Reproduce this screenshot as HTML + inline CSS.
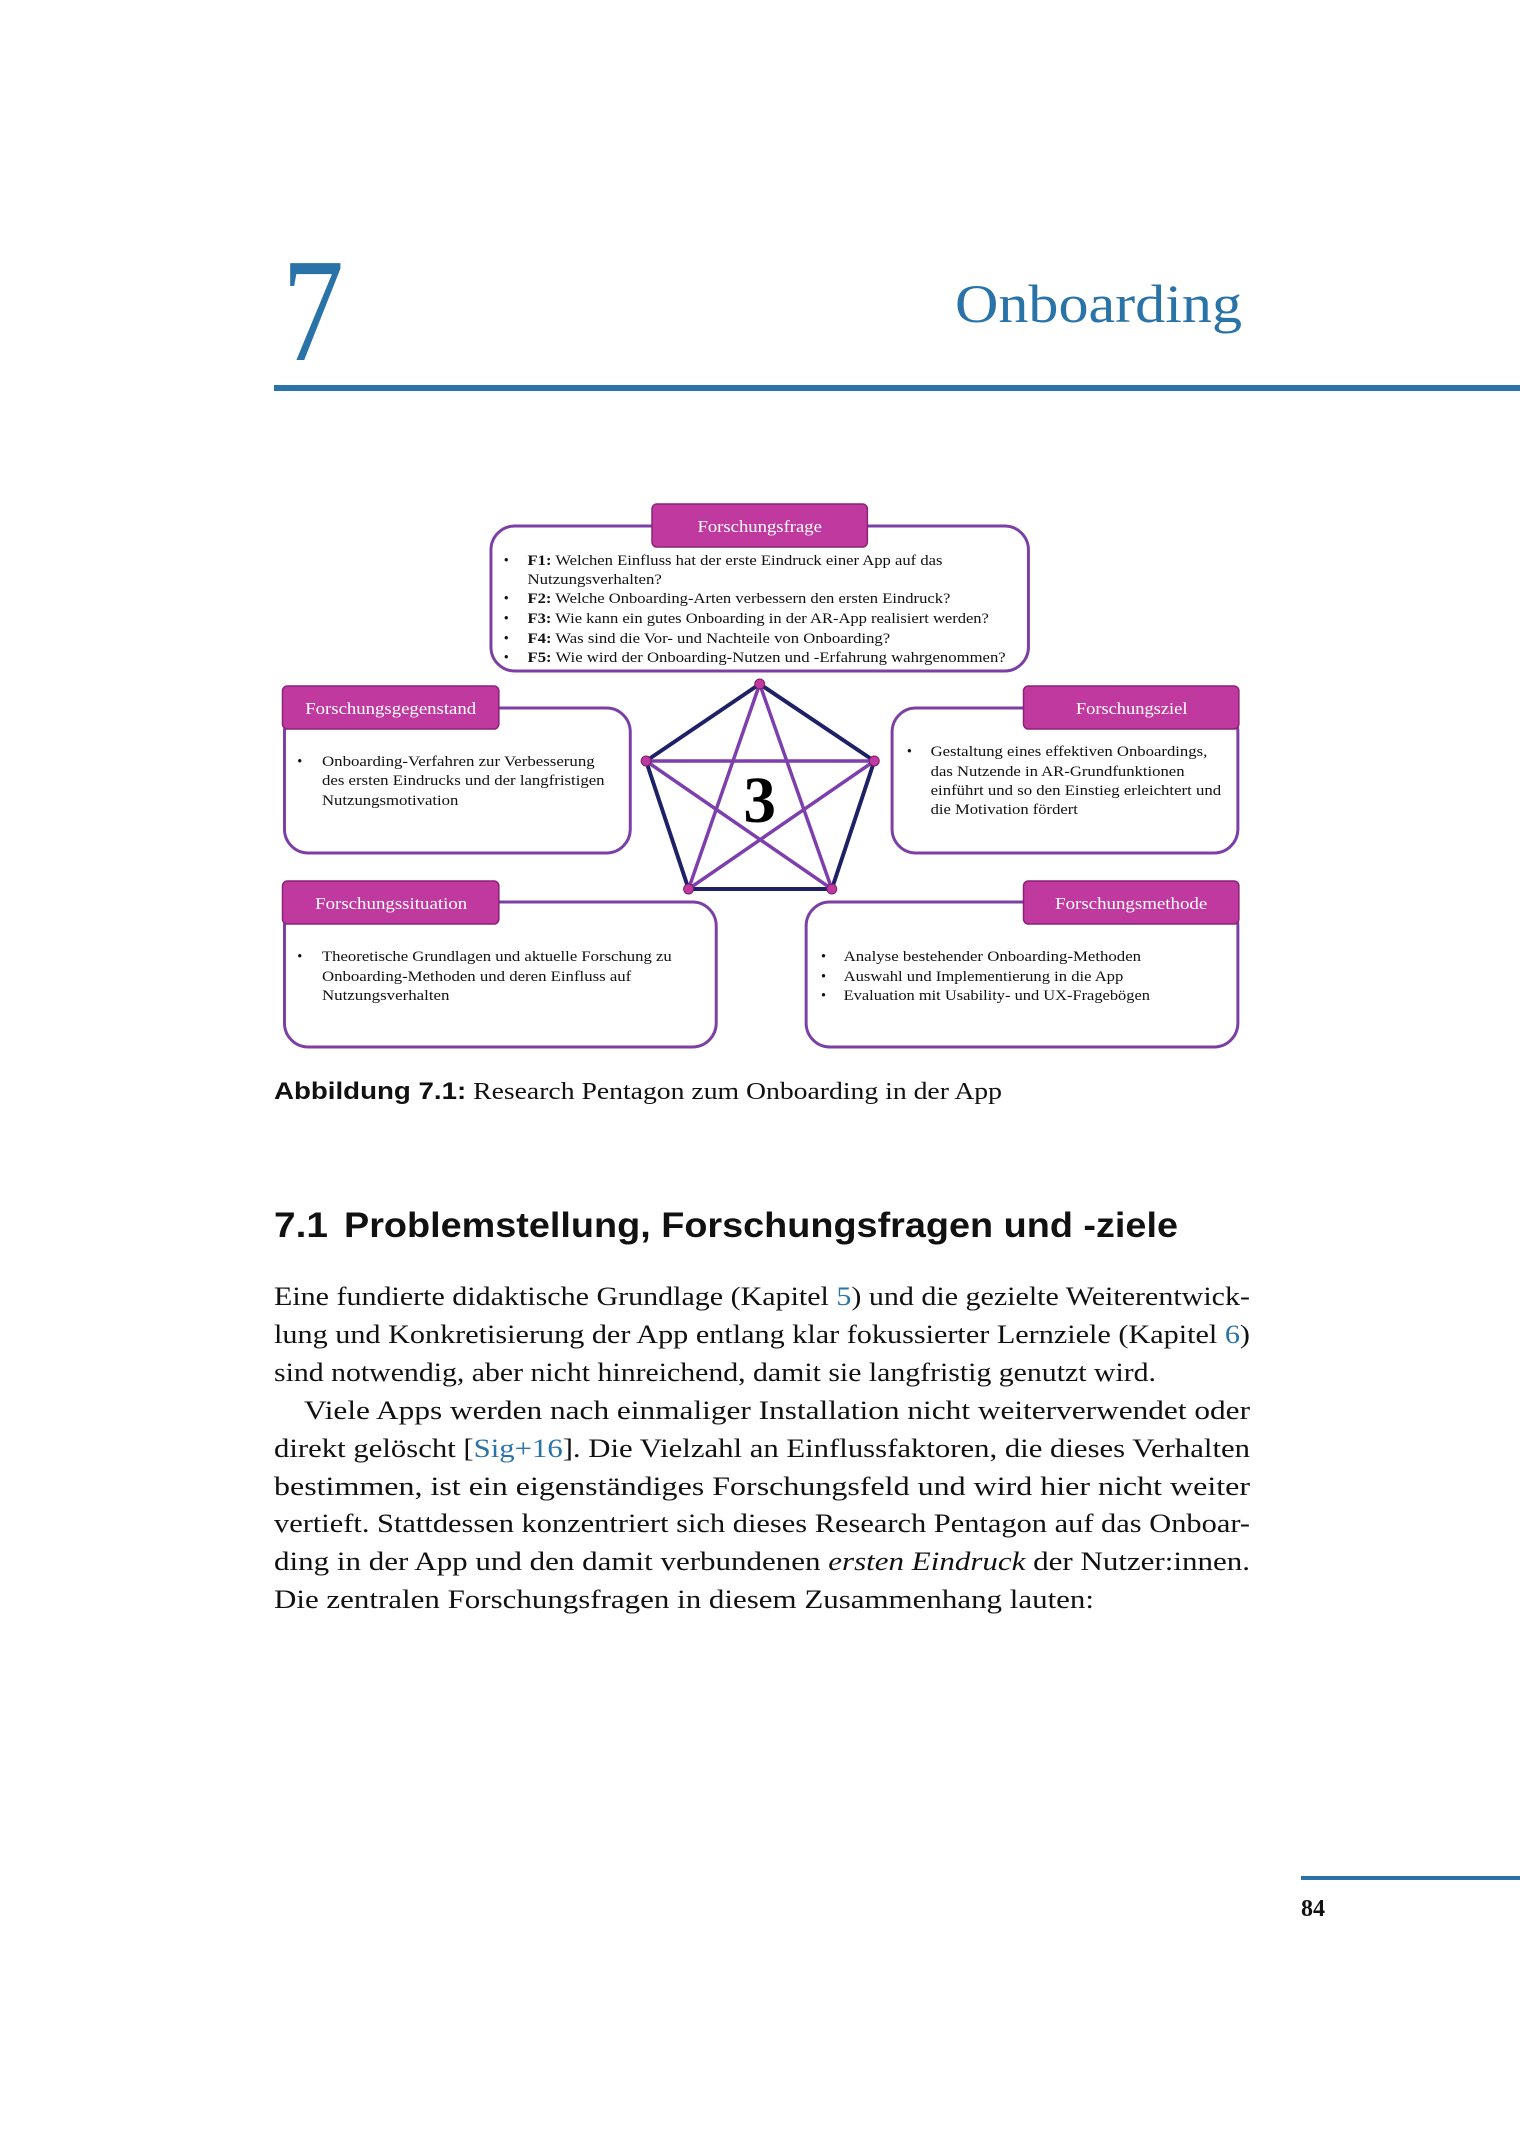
<!DOCTYPE html>
<html><head><meta charset="utf-8"><style>
html,body{margin:0;padding:0;background:#fff}
svg{display:block}
.s{font-family:"Liberation Serif",serif}
.sans{font-family:"Liberation Sans",sans-serif}
</style></head><body>
<svg width="1520" height="2149" viewBox="0 0 1520 2149" xmlns="http://www.w3.org/2000/svg">
<rect width="1520" height="2149" fill="#fff"/>
<!-- chapter head -->
<text class="s" x="282" y="360" font-size="148" fill="#2a73a8" textLength="62" lengthAdjust="spacingAndGlyphs">7</text>
<text class="s" x="955" y="322" font-size="54" fill="#2a73a8" textLength="287" lengthAdjust="spacingAndGlyphs">Onboarding</text>
<rect x="274" y="385" width="1246" height="6" fill="#2a73a8"/>

<g transform="matrix(0.988 0 0 1 1.9 0)">
<!-- diagram -->
<g fill="#fff" stroke="#7b3fa6" stroke-width="3">
<rect x="495" y="526" width="544" height="145" rx="24"/>
<rect x="286" y="708" width="350" height="145" rx="24"/>
<rect x="901" y="708" width="350" height="145" rx="24"/>
<rect x="286" y="902" width="437" height="145" rx="24"/>
<rect x="814" y="902" width="437" height="145" rx="24"/>
</g>
<g fill="#c0399f" stroke="#8a2378" stroke-width="1.5">
<rect x="658" y="504" width="218" height="43" rx="5"/>
<rect x="284" y="686" width="219" height="43" rx="5"/>
<rect x="1034" y="686" width="218" height="43" rx="5"/>
<rect x="284" y="881" width="219" height="43" rx="5"/>
<rect x="1034" y="881" width="218" height="43" rx="5"/>
</g>
<g class="s" font-size="17" fill="#fff">
<text x="704" y="532" textLength="126" lengthAdjust="spacingAndGlyphs">Forschungsfrage</text>
<text x="307" y="714" textLength="173" lengthAdjust="spacingAndGlyphs">Forschungsgegenstand</text>
<text x="1087" y="714" textLength="113" lengthAdjust="spacingAndGlyphs">Forschungsziel</text>
<text x="317" y="909" textLength="154" lengthAdjust="spacingAndGlyphs">Forschungssituation</text>
<text x="1066" y="909" textLength="154" lengthAdjust="spacingAndGlyphs">Forschungsmethode</text>
</g>
<g class="s" font-size="14.5" fill="#111">
<text x="508" y="565">•</text><text x="532" y="565" textLength="420" lengthAdjust="spacingAndGlyphs"><tspan font-weight="bold">F1:</tspan> Welchen Einfluss hat der erste Eindruck einer App auf das</text>
<text x="532" y="584" textLength="136" lengthAdjust="spacingAndGlyphs">Nutzungsverhalten?</text>
<text x="508" y="603">•</text><text x="532" y="603" textLength="428" lengthAdjust="spacingAndGlyphs"><tspan font-weight="bold">F2:</tspan> Welche Onboarding-Arten verbessern den ersten Eindruck?</text>
<text x="508" y="623">•</text><text x="532" y="623" textLength="467" lengthAdjust="spacingAndGlyphs"><tspan font-weight="bold">F3:</tspan> Wie kann ein gutes Onboarding in der AR-App realisiert werden?</text>
<text x="508" y="643">•</text><text x="532" y="643" textLength="367" lengthAdjust="spacingAndGlyphs"><tspan font-weight="bold">F4:</tspan> Was sind die Vor- und Nachteile von Onboarding?</text>
<text x="508" y="662">•</text><text x="532" y="662" textLength="484" lengthAdjust="spacingAndGlyphs"><tspan font-weight="bold">F5:</tspan> Wie wird der Onboarding-Nutzen und -Erfahrung wahrgenommen?</text>
<text x="299" y="766">•</text><text x="324" y="766" textLength="276" lengthAdjust="spacingAndGlyphs">Onboarding-Verfahren zur Verbesserung</text>
<text x="324" y="785" textLength="286" lengthAdjust="spacingAndGlyphs">des ersten Eindrucks und der langfristigen</text>
<text x="324" y="805" textLength="138" lengthAdjust="spacingAndGlyphs">Nutzungsmotivation</text>
<text x="916" y="756">•</text><text x="940" y="756" textLength="280" lengthAdjust="spacingAndGlyphs">Gestaltung eines effektiven Onboardings,</text>
<text x="940" y="776" textLength="257" lengthAdjust="spacingAndGlyphs">das Nutzende in AR-Grundfunktionen</text>
<text x="940" y="795" textLength="294" lengthAdjust="spacingAndGlyphs">einführt und so den Einstieg erleichtert und</text>
<text x="940" y="814" textLength="149" lengthAdjust="spacingAndGlyphs">die Motivation fördert</text>
<text x="299" y="961">•</text><text x="324" y="961" textLength="354" lengthAdjust="spacingAndGlyphs">Theoretische Grundlagen und aktuelle Forschung zu</text>
<text x="324" y="981" textLength="313" lengthAdjust="spacingAndGlyphs">Onboarding-Methoden und deren Einfluss auf</text>
<text x="324" y="1000" textLength="129" lengthAdjust="spacingAndGlyphs">Nutzungsverhalten</text>
<text x="829" y="961">•</text><text x="852" y="961" textLength="301" lengthAdjust="spacingAndGlyphs">Analyse bestehender Onboarding-Methoden</text>
<text x="829" y="981">•</text><text x="852" y="981" textLength="283" lengthAdjust="spacingAndGlyphs">Auswahl und Implementierung in die App</text>
<text x="829" y="1000">•</text><text x="852" y="1000" textLength="310" lengthAdjust="spacingAndGlyphs">Evaluation mit Usability- und UX-Fragebögen</text>
</g>
<polygon points="767,684 883,761 840,889 695,889 652,761" fill="none" stroke="#1e2166" stroke-width="4" stroke-linejoin="round"/>
<g stroke="#7e3fae" stroke-width="3.5" fill="none">
<line x1="652" y1="761" x2="883" y2="761"/>
<line x1="767" y1="684" x2="695" y2="889"/>
<line x1="767" y1="684" x2="840" y2="889"/>
<line x1="652" y1="761" x2="840" y2="889"/>
<line x1="883" y1="761" x2="695" y2="889"/>
</g>
<g fill="#c0399f" stroke="#7b1e6a" stroke-width="1">
<circle cx="767" cy="684" r="5"/><circle cx="883" cy="761" r="5"/><circle cx="840" cy="889" r="5"/><circle cx="695" cy="889" r="5"/><circle cx="652" cy="761" r="5"/>
</g>
<text class="s" x="767" y="822" font-size="66" font-weight="bold" text-anchor="middle" fill="#000">3</text>
</g>

<!-- caption -->
<text class="s" x="274" y="1099" font-size="24" fill="#111" textLength="728" lengthAdjust="spacingAndGlyphs"><tspan font-weight="bold" font-family="Liberation Sans, sans-serif">Abbildung 7.1:</tspan> Research Pentagon zum Onboarding in der App</text>

<!-- heading -->
<text class="sans" x="274" y="1237" font-size="35" font-weight="bold" fill="#111" textLength="54" lengthAdjust="spacingAndGlyphs">7.1</text>
<text class="sans" x="344" y="1237" font-size="35" font-weight="bold" fill="#111" textLength="834" lengthAdjust="spacingAndGlyphs">Problemstellung, Forschungsfragen und -ziele</text>

<!-- body -->
<g class="s" font-size="26" fill="#111">
<text x="274" y="1305" textLength="976" lengthAdjust="spacingAndGlyphs">Eine fundierte didaktische Grundlage (Kapitel <tspan fill="#2a73a8">5</tspan>) und die gezielte Weiterentwick-</text>
<text x="274" y="1343" textLength="976" lengthAdjust="spacingAndGlyphs">lung und Konkretisierung der App entlang klar fokussierter Lernziele (Kapitel <tspan fill="#2a73a8">6</tspan>)</text>
<text x="274" y="1381" textLength="882" lengthAdjust="spacingAndGlyphs">sind notwendig, aber nicht hinreichend, damit sie langfristig genutzt wird.</text>
<text x="304" y="1419" textLength="946" lengthAdjust="spacingAndGlyphs">Viele Apps werden nach einmaliger Installation nicht weiterverwendet oder</text>
<text x="274" y="1457" textLength="976" lengthAdjust="spacingAndGlyphs">direkt gelöscht [<tspan fill="#2a73a8">Sig+16</tspan>]. Die Vielzahl an Einflussfaktoren, die dieses Verhalten</text>
<text x="274" y="1495" textLength="976" lengthAdjust="spacingAndGlyphs">bestimmen, ist ein eigenständiges Forschungsfeld und wird hier nicht weiter</text>
<text x="274" y="1532" textLength="976" lengthAdjust="spacingAndGlyphs">vertieft. Stattdessen konzentriert sich dieses Research Pentagon auf das Onboar-</text>
<text x="274" y="1570" textLength="976" lengthAdjust="spacingAndGlyphs">ding in der App und den damit verbundenen <tspan font-style="italic">ersten Eindruck</tspan> der Nutzer:innen.</text>
<text x="274" y="1608" textLength="820" lengthAdjust="spacingAndGlyphs">Die zentralen Forschungsfragen in diesem Zusammenhang lauten:</text>
</g>

<!-- footer -->
<rect x="1301" y="1876" width="219" height="4" fill="#2a73a8"/>
<text class="s" x="1301" y="1916" font-size="24" font-weight="bold" fill="#111">84</text>
</svg>
</body></html>
